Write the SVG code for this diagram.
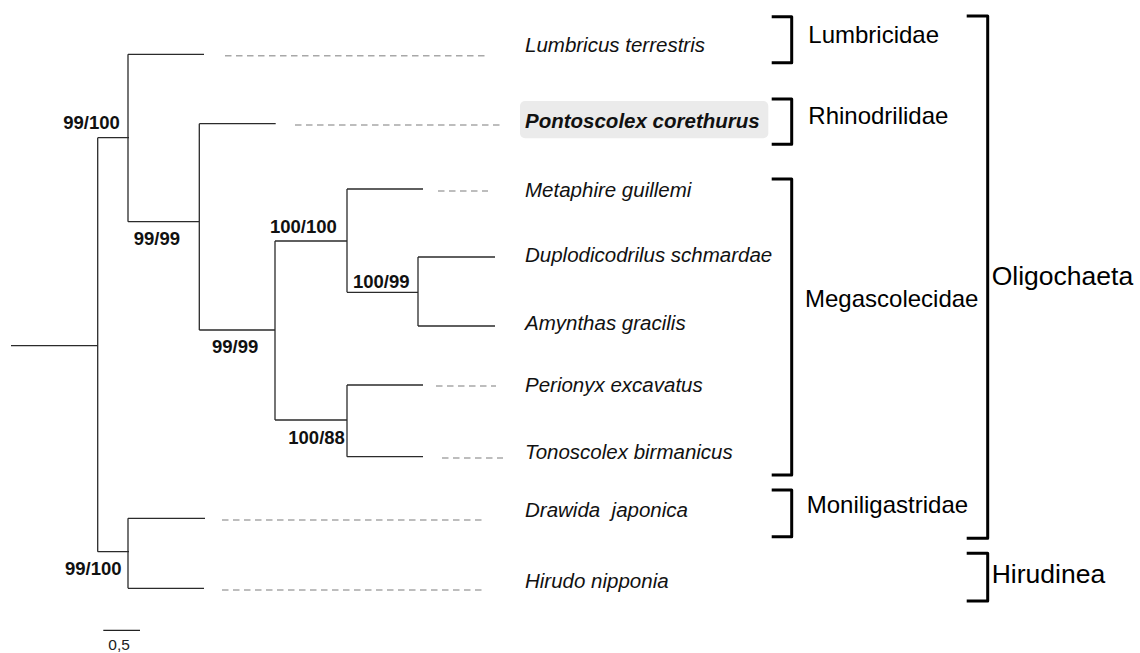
<svg xmlns="http://www.w3.org/2000/svg" width="1140" height="653" viewBox="0 0 1140 653">
<style>
.br{fill:none;stroke:#2b2b2b;stroke-width:1.3}
.ds{fill:none;stroke:#a8a8a8;stroke-width:1.5;stroke-dasharray:6.5 4.5}
.bk{fill:none;stroke:#000;stroke-width:3;stroke-linejoin:round}
.tx{font-family:"Liberation Sans",Arial,sans-serif;font-style:italic;font-size:20.5px;fill:#111}
.sp{font-family:"Liberation Sans",Arial,sans-serif;font-weight:bold;font-size:18.5px;fill:#111}
.fm{font-family:"Liberation Sans",Arial,sans-serif;font-size:24px;fill:#000}
.gr{font-family:"Liberation Sans",Arial,sans-serif;font-size:26.5px;fill:#000}
</style>
<rect width="1140" height="653" fill="#fff"/>
<g id="connectors">
<path class="br" d="M11,345.7H97.7 M97.7,137.7V551.7 M97.7,137.7H129 M128,54.3V221.7 M128,54.3H204 M128,221.7H199.3 M199.3,123.7V330 M199.3,123.7H275.7 M199.3,330H275 M275,241V420 M275,241H347 M275,420H347 M347,189V292.3 M347,189H423 M347,292.3H418 M418,257V326 M418,257H495 M418,326H495 M347,385V456.7 M347,385H423 M347,456.7H423 M97.7,551.7H129 M128,518.3V588.3 M128,518.3H205 M128,588.3H204"/>
<path class="ds" d="M225,55.7H485 M295,125H500 M438,191H488 M436,386H496 M442,458H503 M222,520H482 M222,590H482"/>
</g>
<g id="support">
<text class="sp" x="63.3" y="129.3">99/100</text>
<text class="sp" x="133.7" y="245">99/99</text>
<text class="sp" x="270" y="232.7">100/100</text>
<text class="sp" x="353" y="287.7">100/99</text>
<text class="sp" x="212" y="352.7">99/99</text>
<text class="sp" x="288.3" y="444.3">100/88</text>
<text class="sp" x="65" y="575">99/100</text>
</g>
<g id="taxa">
<g id="t-lumbricus"><text class="tx" x="525" y="52.3">Lumbricus terrestris</text></g>
<g id="t-pontoscolex"><rect x="520" y="101" width="248.3" height="37.3" rx="5" fill="#ebebeb"/><text class="tx" x="525" y="128.3" font-weight="bold" fill="#222">Pontoscolex corethurus</text></g>
<g id="t-metaphire"><text class="tx" x="525" y="196.7">Metaphire guillemi</text></g>
<g id="t-duplodicodrilus"><text class="tx" x="525" y="261.7">Duplodicodrilus schmardae</text></g>
<g id="t-amynthas"><text class="tx" x="525" y="330">Amynthas gracilis</text></g>
<g id="t-perionyx"><text class="tx" x="525" y="391.7">Perionyx excavatus</text></g>
<g id="t-tonoscolex"><text class="tx" x="525" y="459.3">Tonoscolex birmanicus</text></g>
<g id="t-drawida"><text class="tx" x="525" y="516.7" xml:space="preserve">Drawida  japonica</text></g>
<g id="t-hirudo"><text class="tx" x="525" y="587.7">Hirudo nipponia</text></g>
</g>
<g id="groups">
<g id="g-lumbricidae"><path class="bk" d="M771.7,16.7H791.7V62.7H771.7"/><text class="fm" x="808.3" y="42.7">Lumbricidae</text></g>
<g id="g-rhinodrilidae"><path class="bk" d="M771.7,99H791.7V144.3H771.7"/><text class="fm" x="808.3" y="124">Rhinodrilidae</text></g>
<g id="g-megascolecidae"><path class="bk" d="M771.7,179H791.7V475H771.7"/><text class="fm" x="805" y="306.7">Megascolecidae</text></g>
<g id="g-moniligastridae"><path class="bk" d="M771.7,490H791.7V536.7H771.7"/><text class="fm" x="806.7" y="513.3">Moniligastridae</text></g>
<g id="g-oligochaeta"><path class="bk" d="M966.7,16H987.7V538.3H966.7"/><text class="gr" x="991.7" y="285">Oligochaeta</text></g>
<g id="g-hirudinea"><path class="bk" d="M966.7,553.3H987.7V601H966.7"/><text class="gr" x="991.7" y="583.3">Hirudinea</text></g>
</g>
<g id="scale">
<path d="M103.3,630.3H140" stroke="#222" stroke-width="1.3"/>
<text x="108.3" y="650" font-family="'Liberation Sans',Arial,sans-serif" font-size="15.5" fill="#222">0,5</text>
</g>
</svg>
